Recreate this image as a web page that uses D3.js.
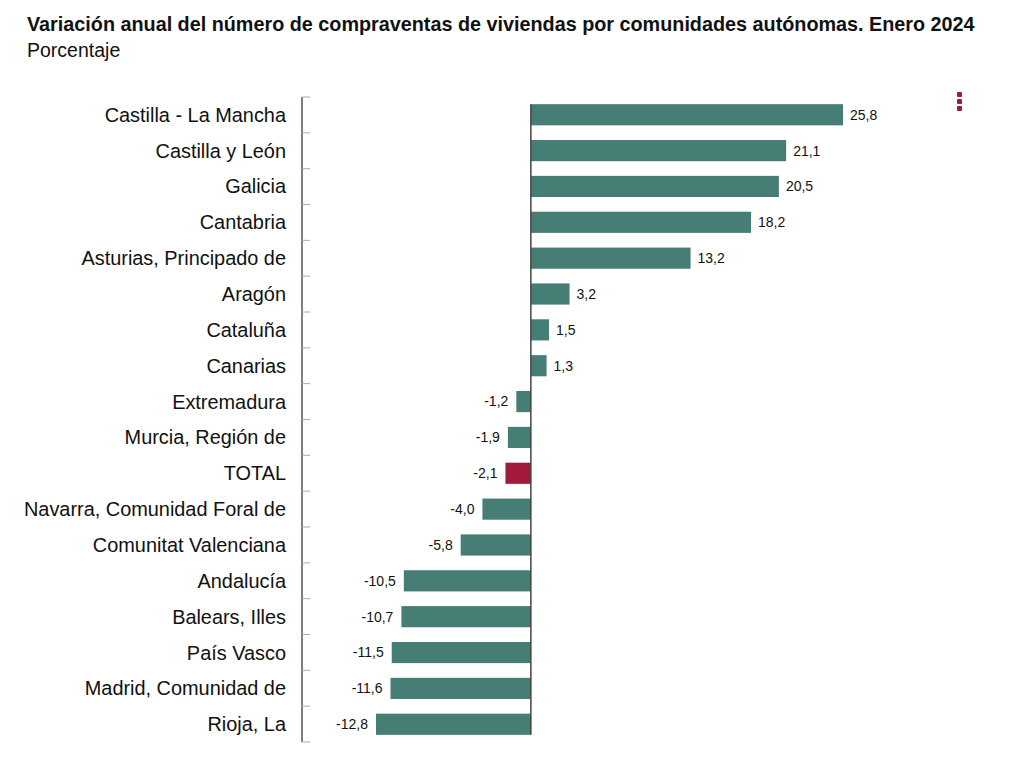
<!DOCTYPE html>
<html><head><meta charset="utf-8">
<script src="https://cdn.jsdelivr.net/npm/d3@7"></script>
<style>body{margin:0;background:#fff;font-family:"Liberation Sans",Arial,sans-serif}</style>
</head><body><svg id="c" width="1024" height="768"></svg>
<script>
const categories = ["Castilla - La Mancha","Castilla y León","Galicia","Cantabria","Asturias, Principado de","Aragón","Cataluña","Canarias","Extremadura","Murcia, Región de","TOTAL","Navarra, Comunidad Foral de","Comunitat Valenciana","Andalucía","Balears, Illes","País Vasco","Madrid, Comunidad de","Rioja, La"];
const values = [25.8,21.1,20.5,18.2,13.2,3.2,1.5,1.3,-1.2,-1.9,-2.1,-4.0,-5.8,-10.5,-10.7,-11.5,-11.6,-12.8];
const highlight = "TOTAL";
const title = "Variación anual del número de compraventas de viviendas por comunidades autónomas. Enero 2024";
const subtitle = "Porcentaje";

const svg = d3.select("#c");
svg.append("text").attr("x",27).attr("y",31).attr("font-size",19.8).attr("font-weight","bold").attr("fill","#111").text(title);
svg.append("text").attr("x",27).attr("y",57).attr("font-size",19.5).attr("fill","#111").text(subtitle);

const x = d3.scaleLinear().domain([-12.8,25.8]).range([376,843]);
const y = d3.scaleBand().domain(categories).range([97,742]).paddingInner(0.41).paddingOuter(0.2);
const fmt = v => d3.format(".1f")(v).replace(".",",").replace("−","-");

// axis line and ticks
const axX = 302;
const tickYs = d3.range(categories.length+1).map(i => 97 + i*(645/categories.length));
svg.append("line").attr("x1",axX).attr("x2",axX).attr("y1",97).attr("y2",742).attr("stroke","#555").attr("stroke-width",1.5);
svg.selectAll(".tk").data(tickYs).join("line").attr("x1",axX).attr("x2",axX+8).attr("y1",d=>d).attr("y2",d=>d).attr("stroke","#aaa").attr("stroke-width",1);

// category labels
svg.selectAll(".cl").data(categories).join("text")
  .attr("x",286).attr("y",d=>y(d)+y.bandwidth()/2).attr("dy","0.35em")
  .attr("text-anchor","end").attr("font-size",19.9).attr("fill","#111").text(d=>d);

// bars
svg.selectAll(".b").data(values).join("rect")
  .attr("x",d=>x(Math.min(0,d))).attr("width",d=>Math.abs(x(d)-x(0)))
  .attr("y",(d,i)=>y(categories[i])).attr("height",y.bandwidth())
  .attr("fill",(d,i)=>categories[i]===highlight?"#a21a3a":"#467d74");

// zero line
svg.append("line").attr("x1",x(0)).attr("x2",x(0)).attr("y1",y(categories[0])).attr("y2",y(categories[categories.length-1])+y.bandwidth()).attr("stroke","#444").attr("stroke-width",1.5);

// value labels
svg.selectAll(".vl").data(values).join("text")
  .attr("x",d=>d>=0?x(d)+7:x(d)-8).attr("y",(d,i)=>y(categories[i])+y.bandwidth()/2).attr("dy","0.35em")
  .attr("text-anchor",d=>d>=0?"start":"end").attr("font-size",14).attr("fill","#111").text(fmt);

// menu dots
svg.selectAll(".dot").data([0,1,2]).join("rect").attr("x",957).attr("y",d=>92+d*7).attr("width",5).attr("height",5).attr("rx",1).attr("fill","#a21a3a");
</script></body></html>
